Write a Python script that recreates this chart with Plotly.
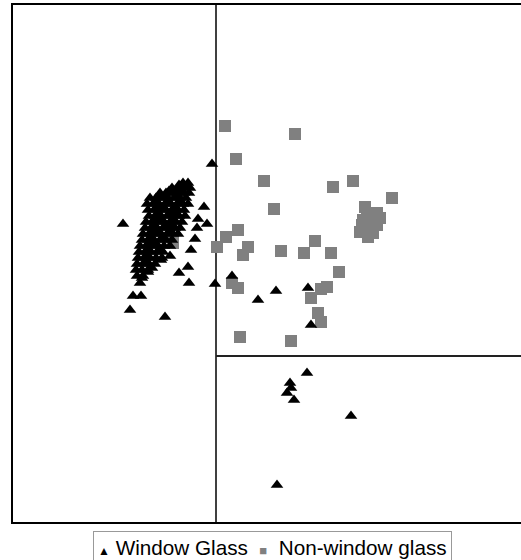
import plotly.graph_objects as go

# Window glass (triangles): scattered points
win_x = [199, 110, 191, 185, 194, 184, 182, 178, 175, 166, 176, 202, 148, 157, 139, 135, 129, 127,
         120, 128, 117, 152, 219, 245, 263, 295, 298, 294, 277, 278, 274, 281, 338, 264]
win_y = [358, 298, 315, 303, 298, 294, 283, 272, 255, 249, 239, 238, 262, 266, 254, 250, 244, 239,
         226, 226, 212, 205, 246, 222, 231, 234, 197, 149, 139, 134, 129, 122, 106, 37]

# Window glass (triangles): dense cluster
win_cluster_x = [170, 175, 166,
                 159, 165, 171, 177, 168, 174,
                 147, 153, 159, 165, 171, 176, 156, 162, 168,
                 137, 143, 149, 155, 161, 167, 173, 146, 152, 164,
                 134, 140, 146, 152, 158, 164, 170, 175, 143, 155, 167,
                 135, 141, 147, 153, 159, 165, 171, 144, 150, 162,
                 136, 142, 148, 154, 160, 166, 172, 145, 157, 163,
                 133, 139, 145, 151, 157, 163, 169, 142, 148, 160,
                 132, 138, 144, 150, 156, 162, 167, 141, 153, 159,
                 130, 136, 142, 148, 154, 160, 165, 139, 145, 157,
                 129, 135, 141, 147, 153, 159, 138, 150,
                 127, 133, 139, 145, 151, 157, 136, 142,
                 126, 132, 138, 144, 150, 135, 147,
                 125, 131, 137, 143, 149, 134,
                 124, 130, 136, 142, 133,
                 123, 129, 135,
                 124, 130]
win_cluster_y = [339, 339, 337,
                 334, 334, 334, 334, 336, 336,
                 329, 329, 329, 329, 329, 329, 331, 331, 331,
                 324, 324, 324, 324, 324, 324, 324, 326, 326, 326,
                 318, 318, 318, 318, 318, 318, 318, 318, 321, 321, 321,
                 312, 312, 312, 312, 312, 312, 312, 315, 315, 315,
                 306, 306, 306, 306, 306, 306, 306, 309, 309, 309,
                 300, 300, 300, 300, 300, 300, 300, 303, 303, 303,
                 294, 294, 294, 294, 294, 294, 294, 297, 297, 297,
                 288, 288, 288, 288, 288, 288, 288, 291, 291, 291,
                 282, 282, 282, 282, 282, 282, 285, 285,
                 276, 276, 276, 276, 276, 276, 279, 279,
                 270, 270, 270, 270, 270, 273, 273,
                 264, 264, 264, 264, 264, 267,
                 258, 258, 258, 258, 261,
                 252, 252, 252,
                 246, 246]

# Non-window glass (squares)
non_x = [212, 282, 223, 251, 320, 340, 379, 261, 225, 213, 204, 235, 230, 268, 291, 302, 318, 326,
         219, 225, 314, 308, 298, 305, 308, 227, 278, 160,
         352, 364, 350, 357, 347, 355, 364, 367, 349, 360, 354, 358]
non_y = [396, 388, 363, 341, 335, 341, 324, 313, 292, 285, 275, 275, 267, 271, 269, 281, 269, 250,
         239, 234, 235, 233, 224, 209, 200, 185, 181, 279,
         315, 309, 302, 295, 290, 285, 297, 304, 297, 289, 309, 302]

series_names = ["Window Glass", "Non-window glass"]
split_x = 203
split_y = 166
x_range = [0, 508]
y_range = [0, 517]

fig = go.Figure()
fig.add_trace(go.Scatter(x=non_x, y=non_y, mode="markers", name=series_names[1], showlegend=False,
                         marker=dict(symbol="square", size=12, color="#808080", line=dict(width=0))))
fig.add_trace(go.Scatter(x=win_x + win_cluster_x, y=win_y + win_cluster_y, mode="markers",
                         name=series_names[0], showlegend=False,
                         marker=dict(symbol="triangle-up", size=11, color="black", line=dict(width=0))))

fig.add_shape(type="line", x0=split_x, x1=split_x, y0=y_range[0], y1=y_range[1],
              line=dict(color="black", width=1.5), layer="below")
fig.add_shape(type="line", x0=split_x, x1=x_range[1], y0=split_y, y1=split_y,
              line=dict(color="#222", width=2), layer="below")

legend_text = ('<span style="font-size:12px">▲</span> ' + series_names[0] +
               '&nbsp; <span style="font-size:13px;color:#808080">■</span>&nbsp; ' + series_names[1])
fig.add_annotation(text=legend_text, xref="paper", yref="paper", x=0.51, xanchor="center",
                   y=-0.0174, yanchor="top", showarrow=False,
                   font=dict(size=20.7, color="black"), bordercolor="#999", borderwidth=1,
                   borderpad=4, bgcolor="white")

fig.update_layout(
    width=521, height=560,
    margin=dict(l=13, r=0, t=5, b=38),
    paper_bgcolor="white", plot_bgcolor="white",
    showlegend=False,
    font=dict(family="Liberation Sans, Arial, sans-serif", color="black"),
    xaxis=dict(range=x_range, showgrid=False, zeroline=False, showticklabels=False, ticks="",
               showline=True, mirror=True, linecolor="black", linewidth=2),
    yaxis=dict(range=y_range, showgrid=False, zeroline=False, showticklabels=False, ticks="",
               showline=True, linecolor="black", linewidth=2),
)

fig.write_html("out.html", config={"displayModeBar": False},
               post_script="document.body.style.margin='0';")
